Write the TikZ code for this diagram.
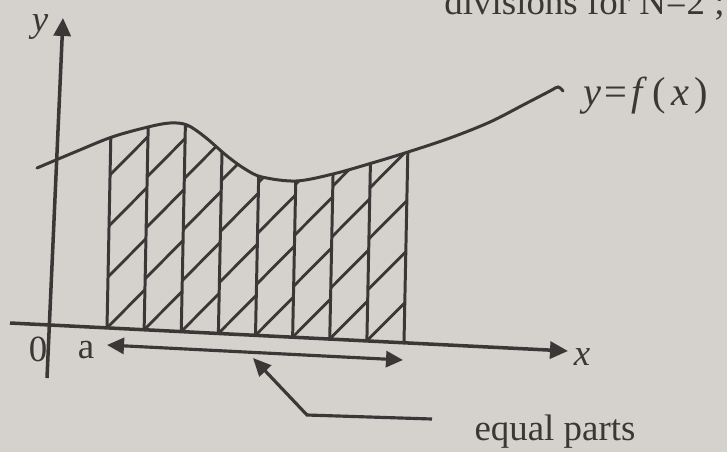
\documentclass[tikz,border=0pt]{standalone}
\usepackage{fontspec}
\setmainfont{Liberation Serif}
\usetikzlibrary{arrows.meta, calc}
\definecolor{fgPaper}{HTML}{D5D1CC}
\definecolor{fgInk}{HTML}{3B3737}
\newcommand{\lblfont}{\fontsize{21}{24}\selectfont}
\newcommand{\fxpath}{plot[smooth, tension=0.55] coordinates {(37,168) (75,152) (112,137) (148,127)
  (170,123) (187,125) (205,137) (227,156) (245,169) (262,177) (296,181) (333,174) (372,163)
  (408,152) (450,138) (490,122) (525,104) (550,91) (558,87) (563,91)}}

\begin{document}
\begin{tikzpicture}[
    x=0.2mm, y=-0.2mm,
    axisln/.style={draw=fgInk, line width=2pt, -{Triangle[length=3.6mm, width=3.4mm]}},
    fx/.style={draw=fgInk, line width=1.7pt, line cap=round},
    strip/.style={draw=fgInk, line width=1.7pt},
    hatch/.style={draw=fgInk, line width=1.6pt},
    span/.style={draw=fgInk, line width=1.8pt,
                 {Triangle[length=3.4mm, width=3.2mm]}-{Triangle[length=3.4mm, width=3.2mm]}},
    leader/.style={draw=fgInk, line width=1.8pt, -{Triangle[length=3.6mm, width=3.2mm]}},
    lbl/.style={font=\lblfont, text=fgInk, inner sep=0pt},
  ]
  \fill[fgPaper] (0,0) rectangle (727,452);
  \useasboundingbox (0,0) rectangle (727,452);

  % cut-off line of text above the figure
  \node[lbl, anchor=base east] (top) at (725,14) {divisions for N=2 ;};

  % strips and hatching, clipped under the curve
  \begin{scope}
    \clip \fxpath -- (563,420) -- (37,420) -- cycle;
    \foreach \i in {0,...,7} {
      \pgfmathsetmacro{\xb}{107+37.125*\i}
      \pgfmathsetmacro{\yb}{327.85+1.856*\i}
      \foreach \h in {0,51,...,255} {
        \draw[hatch] ({\xb+0.02*\h},{\yb-\h}) -- ({\xb+37.125+0.02*(\h+40)},{\yb+1.856-\h-40});
      }
    }
    \foreach \i in {0,...,8} {
      \pgfmathsetmacro{\xb}{107+37.125*\i}
      \pgfmathsetmacro{\yb}{327.85+1.856*\i}
      \draw[strip] (\xb,\yb) -- ++(4.6,-230);
    }
  \end{scope}

  % the curve
  \draw[fx] \fxpath;
  \node[lbl, anchor=west, font=\fontsize{23}{26}\selectfont] (fxl) at (583,96)
    {\textit{y}\hspace{2pt}=\hspace{2pt}\textit{f}\hspace{3pt}(\hspace{3pt}\textit{x}\hspace{3pt})};

  % axes
  \coordinate (yb) at (47,378);
  \coordinate (yt) at (63,18);
  \coordinate (xl) at (10,323);
  \coordinate (xr) at (568,351);
  \draw[axisln] (yb) -- (yt);
  \draw[axisln] (xl) -- (xr);
  \node[lbl] (ylab) at (40,27) {\textit{y}};
  \node[lbl] (xlab) at (582,357) {\textit{x}};
  \node[lbl] (orig) at (38,349) {0};
  \node[lbl] (alab) at (86,350) {a};

  % the interval and its pointer
  \coordinate (sa) at (107,345);
  \coordinate (sb) at (403,360);
  \draw[span] (sa) -- (sb);
  \coordinate (le) at (432,419);
  \coordinate (lk) at (307,415);
  \coordinate (lt) at (253,358);
  \draw[leader] (le) -- (lk) -- (lt);
  \node[lbl] (eqp) at (555,432) {equal parts};
\end{tikzpicture}
\end{document}
